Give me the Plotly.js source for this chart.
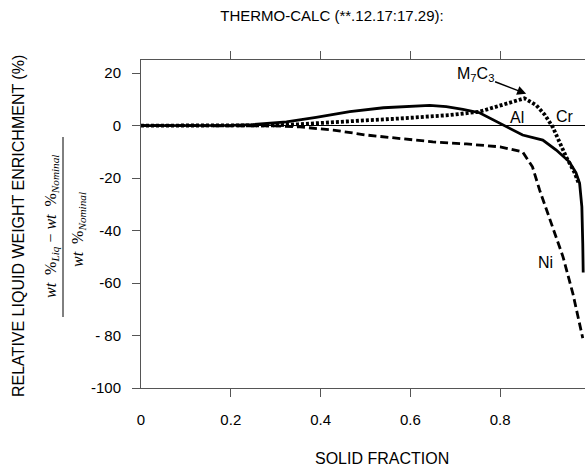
<!DOCTYPE html>
<html>
<head>
<meta charset="utf-8">
<script src="https://cdn.plot.ly/plotly-3.0.1.min.js"></script>
<style>html,body{margin:0;padding:0;background:#fff;}#chart{width:585px;height:469px;}</style>
</head>
<body>
<div id="chart"></div>
<script>
// Al (solid)
const alX = [0, 0.1, 0.2, 0.25, 0.3, 0.324, 0.39, 0.465, 0.54, 0.6, 0.643, 0.68, 0.717, 0.754, 0.8, 0.85, 0.895, 0.925, 0.954, 0.969, 0.977, 0.982, 0.984, 0.985];
const alY = [0, 0, 0.1, 0.4, 0.9, 1.4, 3.1, 5.3, 6.8, 7.4, 7.7, 7.2, 6.2, 4.9, 0.8, -3.6, -5.5, -9.3, -13.8, -18, -22, -31, -45, -56];
// Cr (dotted)
const crX = [0, 0.2, 0.3, 0.35, 0.428, 0.5, 0.576, 0.687, 0.754, 0.8, 0.854, 0.88, 0.9, 0.917, 0.947, 0.966, 0.975];
const crY = [0, 0, 0.1, 0.5, 1.4, 2.0, 2.7, 4.0, 5.3, 7.8, 10.4, 7.8, 4, -0.5, -11.9, -18, -22];
// Ni (dashed)
const niX = [0, 0.2, 0.3, 0.354, 0.428, 0.502, 0.576, 0.65, 0.725, 0.8, 0.85, 0.872, 0.888, 0.917, 0.94, 0.962, 0.977, 0.984];
const niY = [0, 0, -0.1, -0.5, -1.7, -3.6, -5, -6.2, -7, -8.1, -10, -15.7, -24.6, -38.5, -50, -64, -75, -81];

const xTickVals = [0, 0.2, 0.4, 0.6, 0.8];
const xTickText = ['0', '0.2', '0.4', '0.6', '0.8'];
const xMarkVals = [0.2, 0.4, 0.6, 0.8];
const yTickVals = [-100, -80, -60, -40, -20, 0, 20];
const yTickText = ['-100', '- 80', '-60', '-40', '-20', '0', '20'];

const F = '"Liberation Sans", Arial, sans-serif';
const SERIF = '"Liberation Serif", "Times New Roman", serif';
const AX = '#555';

const traces = [
  {x: niX, y: niY, mode: 'lines', line: {color: '#000', width: 2.8, dash: '8px,4px'}, hoverinfo: 'skip'},
  {x: crX, y: crY, mode: 'lines', line: {color: '#000', width: 3.8, dash: '3px,2px'}, hoverinfo: 'skip'},
  {x: alX, y: alY, mode: 'lines', line: {color: '#000', width: 2.8}, hoverinfo: 'skip'},
  {x: [], y: [], xaxis: 'x2', mode: 'lines', hoverinfo: 'skip'}
];

function px2x(p) { return (p - 141) / 444; }
function px2y(p) { return (388 - p) / 328; }

const layout = {
  width: 585, height: 469,
  margin: {l: 141, r: 0, t: 60, b: 81},
  paper_bgcolor: '#fff', plot_bgcolor: '#fff',
  showlegend: false,
  font: {family: F, color: '#000', size: 15},
  title: {text: 'THERMO-CALC (**.12.17:17.29):', font: {family: F, size: 15, color: '#000'},
          xref: 'container', x: 332/585, xanchor: 'center', yref: 'container', y: 1 - 16/469, yanchor: 'middle'},
  xaxis: {range: [0, 0.989], tickvals: xTickVals, ticktext: xTickText, ticks: 'outside', ticklen: 8,
          tickcolor: 'rgba(0,0,0,0)', ticklabelstandoff: 10, showline: true, linecolor: AX, linewidth: 1,
          mirror: true, showgrid: false, zeroline: false, tickfont: {family: F, size: 15}},
  xaxis2: {range: [0, 0.989], overlaying: 'x', anchor: 'y', side: 'bottom', tickvals: xMarkVals, ticks: 'outside',
           ticklen: 8, tickcolor: AX, showticklabels: false, showline: true, linecolor: AX, mirror: 'ticks',
           showgrid: false, zeroline: false},
  yaxis: {range: [-100, 25], tickvals: yTickVals, ticktext: yTickText, ticks: 'outside', ticklen: 8, tickcolor: AX,
          ticklabelstandoff: 8, showline: true, linecolor: AX, linewidth: 1, showgrid: false,
          zeroline: true, zerolinecolor: '#000', zerolinewidth: 1, tickfont: {family: F, size: 15}},
  annotations: [
    {text: 'RELATIVE LIQUID WEIGHT ENRICHMENT (%)', textangle: -90, xref: 'paper', yref: 'paper',
     x: px2x(18), y: px2y(226), xanchor: 'center', yanchor: 'middle', showarrow: false, font: {family: F, size: 16}},
    {text: '<i>wt</i>  %<sub><i>Liq</i></sub> − <i>wt</i>  %<sub><i>Nominal</i></sub>', textangle: -90,
     xref: 'paper', yref: 'paper', x: px2x(51), y: px2y(227), xanchor: 'center', yanchor: 'middle', showarrow: false,
     font: {family: SERIF, size: 16}},
    {text: '<i>wt</i>  %<sub><i>Nominal</i></sub>', textangle: -90,
     xref: 'paper', yref: 'paper', x: px2x(78), y: px2y(230), xanchor: 'center', yanchor: 'middle', showarrow: false,
     font: {family: SERIF, size: 16}},
    {text: 'SOLID FRACTION', xref: 'paper', yref: 'paper', x: px2x(382), y: px2y(458),
     xanchor: 'center', yanchor: 'middle', showarrow: false, font: {family: F, size: 16}},
    {text: 'M<sub>7</sub>C<sub>3</sub>', x: 0.86, y: 12, ax: -52, ay: -20, showarrow: true, arrowhead: 2,
     arrowsize: 1.2, arrowwidth: 1.5, arrowcolor: '#000', standoff: 1, font: {family: F, size: 16}},
    {text: 'Al', x: 0.837, y: 2.9, showarrow: false, font: {family: F, size: 16}},
    {text: 'Cr', x: 0.944, y: 3.6, showarrow: false, font: {family: F, size: 16}},
    {text: 'Ni', x: 0.9, y: -52, showarrow: false, font: {family: F, size: 16}}
  ],
  shapes: [
    {type: 'line', xref: 'paper', yref: 'paper', x0: px2x(63), x1: px2x(63),
     y0: px2y(137), y1: px2y(317), line: {color: '#000', width: 1}}
  ]
};

Plotly.newPlot('chart', traces, layout, {staticPlot: true, displayModeBar: false});
</script>
</body>
</html>
